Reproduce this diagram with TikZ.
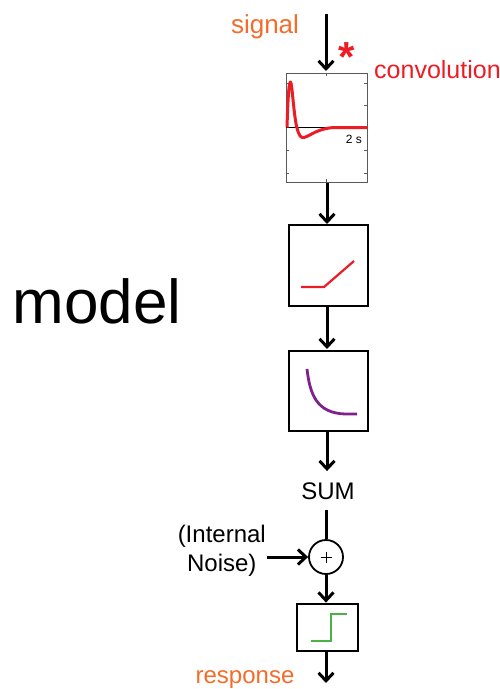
\documentclass[tikz,border=0pt]{standalone}
\usepackage{fontspec}
\setmainfont{Liberation Sans}
\usetikzlibrary{arrows.meta}
\definecolor{sigorange}{RGB}{243,108,41}
\definecolor{convred}{RGB}{237,28,36}
\definecolor{decpurple}{RGB}{128,32,140}
\definecolor{stepgreen}{RGB}{76,178,72}
\definecolor{framegray}{RGB}{90,90,90}
\tikzset{
  flow/.style={line width=3pt,-{Straight Barb[length=8pt,width=15pt]}},
  blockbox/.style={draw,line width=2.8pt,rectangle,inner sep=0pt},
  lbl/.style={inner sep=0pt,anchor=base},
  big/.style={font=\fontsize{24}{29}\selectfont},
}
\begin{document}
\begin{tikzpicture}[x=1pt,y=-1pt]
\useasboundingbox (0,0) rectangle (500,689);

% convolution plot box
\node[draw=framegray,line width=1pt,rectangle,inner sep=0pt,minimum width=81pt,minimum height=109pt] (conv) at (326.5,127.5) {};
\foreach \yy in {83,105,150,173} {
  \draw[framegray,line width=0.7pt] (286,\yy) -- (289,\yy);
  \draw[framegray,line width=0.7pt] (367,\yy) -- (364,\yy);
}
\draw[framegray,line width=0.7pt] (326,73) -- (326,76);
\draw[framegray,line width=0.7pt] (326,182) -- (326,179);
\draw[line width=1.8pt] (286,127.5) -- (367,127.5);
\draw[convred,line width=3pt,line join=round] (287,127.5) .. controls (288,95) and (289,82) .. (290.5,82)
  .. controls (292,82) and (294,118) .. (297,128)
  .. controls (299,136) and (301,138) .. (304,137.5)
  .. controls (310,136) and (318,128) .. (335,127.5) -- (367,127.5);
\node[lbl,font=\fontsize{12}{14}\selectfont] (twos) at (354,143) {2 s};

% ramp box
\node[blockbox,minimum width=79pt,minimum height=81pt] (ramp) at (328.5,265.5) {};
\draw[convred,line width=2.2pt] (301,287) -- (324,287) -- (354,261);

% decay box
\node[blockbox,minimum width=79pt,minimum height=80pt] (decay) at (328.5,391) {};
\draw[decpurple,line width=2.8pt] (307,369) .. controls (310,395) and (317,413) .. (345,414) -- (357,414);

% sum label
\node[lbl,big,inner sep=11pt] (sum) at (328,499) {SUM};

% plus circle
\node[draw,circle,line width=1.8pt,minimum size=34pt,inner sep=0pt] (plus) at (326,557) {};
\draw[line width=1pt] (320.5,557) -- (331.5,557) (326,551.5) -- (326,562.5);

% internal noise
\node[big,align=center,inner sep=1pt,anchor=east] (noise) at (267,551) {(Internal\\Noise)};

% step box
\node[blockbox,minimum width=61pt,minimum height=47pt] (stepbox) at (327.5,627.5) {};
\draw[stepgreen,line width=2.6pt] (311,641) -- (331,641) -- (331,614) -- (347,614);

% labels
\node[lbl,font=\fontsize{26}{30}\selectfont,text=sigorange] (signal) at (265,33) {signal};
\node[inner sep=0pt,anchor=base west,font=\fontsize{25}{30}\selectfont,text=convred] (convl) at (374,78) {convolution};
\node[lbl,font=\bfseries\fontsize{42}{44}\selectfont,text=convred] (star) at (347,71) {*};
\node[lbl,big,text=sigorange] (resp) at (245,683) {response};
\node[lbl,font=\fontsize{62}{70}\selectfont] (model) at (97,323) {model};

% connectors
\coordinate (top) at (326,14);
\coordinate (bot) at (326,683);
\draw[flow] (top) -- (326,71);
\draw[flow] (conv.south -| 327,0) -- (327,224);
\draw[flow] (ramp.south -| 327,0) -- (327,349);
\draw[flow] (decay.south -| 327,0) -- (sum.north -| 327,0);
\draw[line width=3pt] (sum.south -| plus.north) -- (plus.north);
\draw[flow] (plus.west -| noise.east) -- (plus.west);
\draw[flow] (plus.south) -- (stepbox.north -| plus.south);
\draw[flow] (stepbox.south -| bot) -- (bot);
\end{tikzpicture}
\end{document}
